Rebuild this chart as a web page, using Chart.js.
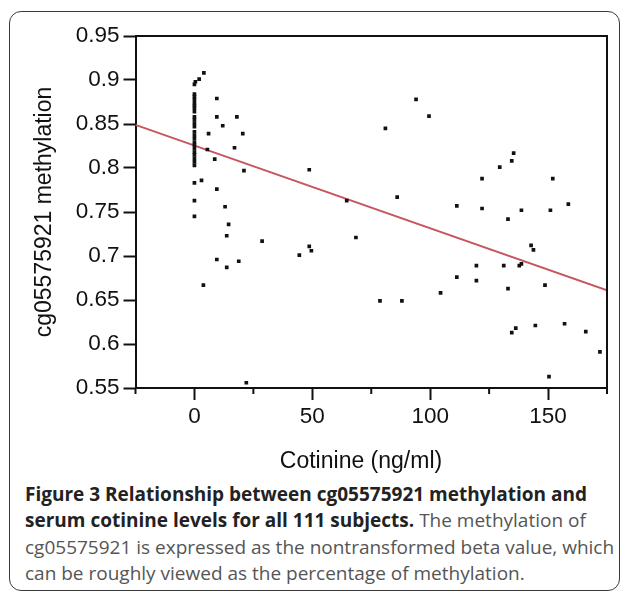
<!DOCTYPE html>
<html>
<head>
<meta charset="utf-8">
<script src="https://cdn.jsdelivr.net/npm/chart.js@4/dist/chart.umd.min.js"></script>
<style>
  html, body { margin: 0; padding: 0; background: #fff; }
  body { width: 629px; height: 592px; position: relative; overflow: hidden; }
  #frame {
    position: absolute; left: 9px; top: 11px; width: 609px; height: 578px;
    border: 1.5px solid #3a3a3a; border-radius: 12px;
  }
  #c { position: absolute; left: 0; top: 0; }
  #xtitle {
    position: absolute; left: 261px; width: 200px; top: 447px; text-align: center;
    font-family: "Liberation Sans", Arial, sans-serif; font-size: 23px; line-height: 26px;
    color: #111; white-space: nowrap;
  }
  #caption {
    position: absolute; left: 25px; top: 481px;
    font-family: "Open Sans", sans-serif; font-size: 19px; line-height: 26.3px;
    color: #555; white-space: nowrap;
  }
  #caption b { color: #222; font-weight: 700; }
</style>
</head>
<body>
<div id="frame"></div>
<canvas id="c" width="629" height="480"></canvas>
<div id="xtitle">Cotinine (ng/ml)</div>
<div id="caption">
  <b>Figure 3 Relationship between cg05575921 methylation and<br>serum cotinine levels for all 111 subjects.</b> The methylation of<br>cg05575921 is expressed as the nontransformed beta value, which<br>can be roughly viewed as the percentage of methylation.
</div>
<script>
// cotinine (ng/ml) for each subject
const cotinine = [
  0, 0, 0, 0, 0, 0, 0, 0, 0, 0, 0, 0, 0, 0, 0, 0, 0, 0, 0, 0, 0, 0,
  4, 2, 0.4, 0, 0, 3, 0, 0,
  9.5, 9.5, 12, 18, 6, 20.5, 5.5, 17, 8.6, 21, 9.5, 13,
  14.5, 13.7, 28.7, 9.5, 18.8, 13.7, 3.8, 22,
  94, 99.5, 81, 48.7, 64.6, 86, 68.5, 48.7, 49.6, 44.5, 78.7, 88, 104.4,
  135.4, 134.6, 129.5, 122, 152, 111.3, 122, 138.7, 151, 158.6, 133, 142.8, 143.8,
  119.6, 131.2, 137.8, 138.7, 111.3, 119.6, 133, 148.7,
  136.3, 134.6, 144.6, 157, 166, 172, 150.4
];
// cg05575921 methylation (beta value)
const methylation = [
  0.884, 0.881, 0.878, 0.874, 0.871, 0.868, 0.864, 0.858, 0.855, 0.851, 0.847,
  0.841, 0.837, 0.833, 0.829, 0.826, 0.822, 0.818, 0.815, 0.811, 0.807, 0.803,
  0.908, 0.901, 0.898, 0.895, 0.783, 0.786, 0.763, 0.745,
  0.879, 0.858, 0.848, 0.858, 0.839, 0.839, 0.821, 0.823, 0.810, 0.797, 0.776, 0.756,
  0.736, 0.723, 0.717, 0.696, 0.694, 0.687, 0.667, 0.556,
  0.878, 0.859, 0.845, 0.798, 0.763, 0.767, 0.721, 0.711, 0.706, 0.701, 0.649, 0.649, 0.658,
  0.817, 0.808, 0.801, 0.788, 0.788, 0.757, 0.754, 0.752, 0.752, 0.759, 0.742, 0.712, 0.707,
  0.689, 0.689, 0.689, 0.691, 0.676, 0.672, 0.663, 0.667,
  0.618, 0.613, 0.621, 0.623, 0.614, 0.591, 0.563
];
// fitted regression line, read at both ends of the x range
const fitX = [-25, 175];
const fitY = [0.849, 0.661];

const xMajorTicks = [0, 50, 100, 150];
const xMinorTicks = [-25, 25, 75, 125, 175];
const yTicks = [0.55, 0.6, 0.65, 0.7, 0.75, 0.8, 0.85, 0.9, 0.95];

const points = cotinine.map((x, i) => ({ x: x, y: methylation[i] }));
const fitLine = fitX.map((x, i) => ({ x: x, y: fitY[i] }));

// box lines on top/right and the short minor ticks on x
const framePlugin = {
  id: "frameBox",
  afterDraw(chart) {
    const { ctx, chartArea: a, scales } = chart;
    ctx.save();
    ctx.strokeStyle = "#111";
    ctx.lineWidth = 2;
    ctx.beginPath();
    ctx.moveTo(a.left, a.top);
    ctx.lineTo(a.right, a.top);
    ctx.lineTo(a.right, a.bottom);
    ctx.stroke();
    xMinorTicks.forEach(v => {
      const px = scales.x.getPixelForValue(v);
      ctx.beginPath();
      ctx.moveTo(px, a.bottom);
      ctx.lineTo(px, a.bottom + 6);
      ctx.stroke();
    });
    ctx.restore();
  }
};

const tickFont = { family: "'Liberation Sans', Arial, sans-serif", size: 22.5 };
const titleFont = { family: "'Liberation Sans', Arial, sans-serif", size: 23 };

new Chart(document.getElementById("c"), {
  data: {
    datasets: [
      {
        type: "line",
        data: fitLine,
        borderColor: "#c65560",
        borderWidth: 1.8,
        pointRadius: 0,
        order: 2,
      },
      {
        type: "scatter",
        data: points,
        backgroundColor: "#111",
        borderWidth: 0,
        pointStyle: "rect",
        pointRadius: 2.6,
        order: 1,
      },
    ],
  },
  options: {
    responsive: false,
    animation: false,
    layout: { padding: { left: 0, top: 36, right: 22, bottom: 0 } },
    plugins: { legend: { display: false }, tooltip: { enabled: false } },
    scales: {
      x: {
        type: "linear",
        min: -25,
        max: 175,
        afterBuildTicks: s => { s.ticks = xMajorTicks.map(v => ({ value: v })); },
        afterFit: s => { s.height = 92; },
        ticks: { color: "#111", font: tickFont, padding: 3, maxRotation: 0 },
        grid: { drawOnChartArea: false, tickLength: 12, tickWidth: 2, tickColor: "#111" },
        border: { color: "#111", width: 2 },
      },
      y: {
        min: 0.55,
        max: 0.95,
        afterBuildTicks: s => { s.ticks = yTicks.map(v => ({ value: v })); },
        afterFit: s => { s.width = 135.5; },
        ticks: { color: "#111", font: tickFont, padding: 4, callback: v => String(+v.toFixed(2)) },
        grid: { drawOnChartArea: false, tickLength: 12, tickWidth: 2, tickColor: "#111" },
        border: { color: "#111", width: 2 },
        title: { display: true, text: "cg05575921 methylation", color: "#111", font: titleFont, padding: { top: 31, bottom: 0 } },
      },
    },
  },
  plugins: [framePlugin],
});
</script>
</body>
</html>
